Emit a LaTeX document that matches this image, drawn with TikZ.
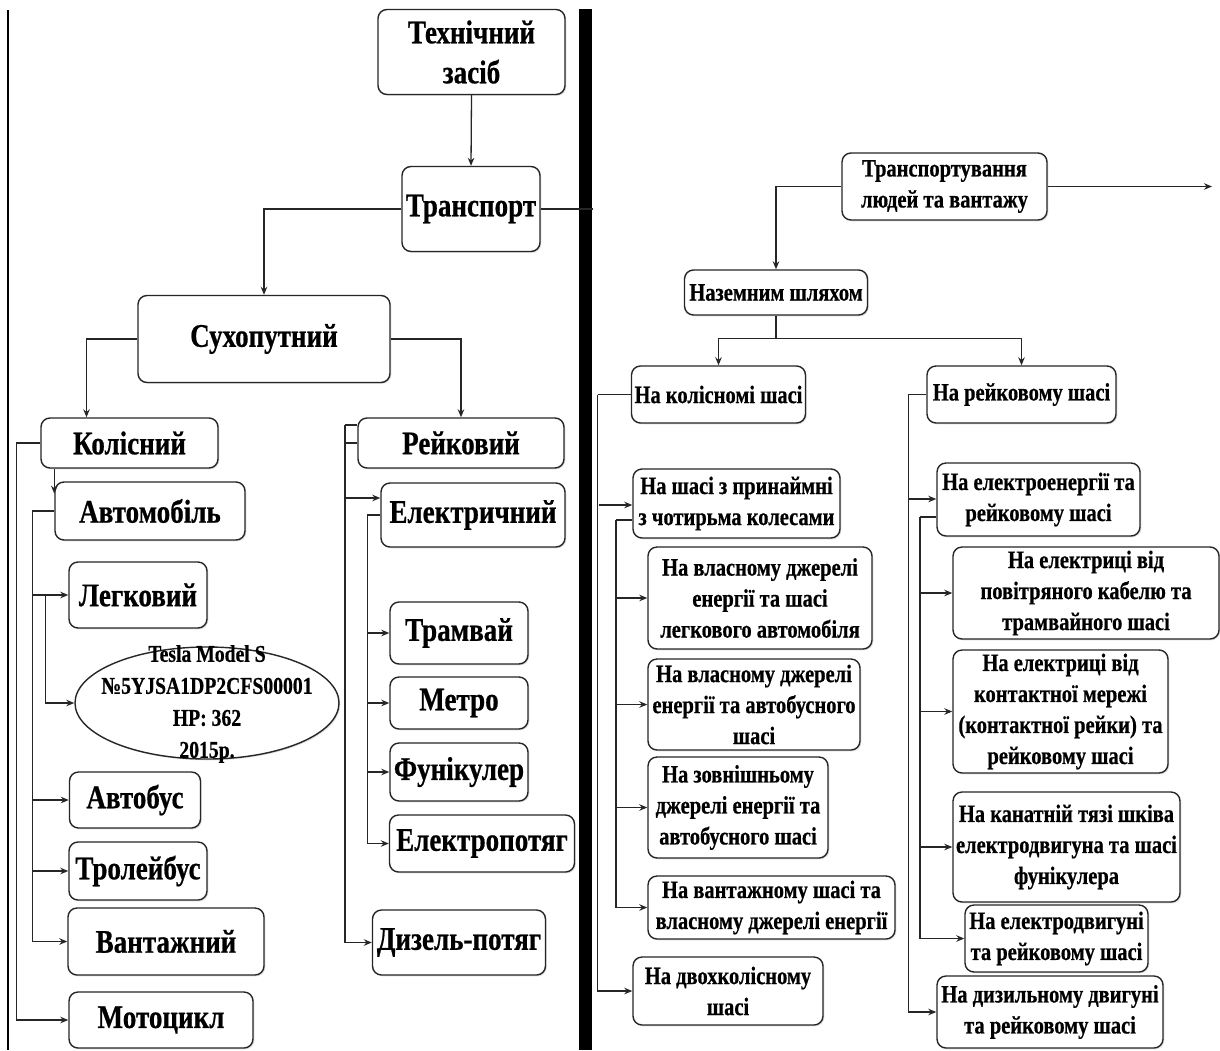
\documentclass[tikz,border=0pt]{standalone}
\usepackage{fontspec}
\setmainfont{Liberation Serif}[FakeStretch=0.82, BoldFeatures={FakeBold=0.6}]
\usetikzlibrary{arrows.meta,shapes.geometric,shadows}

\tikzset{
  rbox/.style={draw=black!85, line width=1.4pt, rounded corners=9pt, fill=white,
    align=center, inner sep=1pt,
    drop shadow={opacity=0.25, shadow xshift=1.3pt, shadow yshift=-1.3pt}},
  big/.style={font=\bfseries\fontsize{33}{40}\selectfont},
  small/.style={font=\bfseries\fontsize{25}{31}\selectfont},
  tiny/.style={font=\bfseries\fontsize{24}{32}\selectfont},
  link/.style={line width=1.3pt, draw=black!85},
  arr/.style={link, -{Stealth[length=8pt,width=6.5pt]}},
}

\begin{document}
\begin{tikzpicture}[x=1pt,y=-1pt]
\fill[white] (0,0) rectangle (1220,1050);
\useasboundingbox (0,0) rectangle (1220,1050);

% page frame and the dividing rule
\draw[line width=1.5pt] (8,10) -- (8,1050);
\fill[black] (579,9) rectangle (592,1050);

% ---------- left tree: classification ----------
\node[rbox, big, minimum width=187, minimum height=85] (tz)   at (471.5,52) {Технічний\\засіб};
\node[rbox, big, minimum width=138, minimum height=85] (trp)  at (471,209) {Транспорт};
\node[rbox, big, minimum width=252, minimum height=87] (sukh) at (264,339) {Сухопутний};
\node[rbox, big, minimum width=177, minimum height=50] (kol)  at (129.5,443) {Колісний};
\node[rbox, big, minimum width=206, minimum height=50] (rei)  at (461,443) {Рейковий};
\node[rbox, big, minimum width=190, minimum height=58] (avto) at (150,511) {Автомобіль};
\node[rbox, big, minimum width=138, minimum height=66] (legk) at (138,595) {Легковий};
\node[draw=black!85, line width=1.4pt, ellipse, fill=white, minimum width=264, minimum height=112,
      drop shadow={opacity=0.25, shadow xshift=1.3pt, shadow yshift=-1.3pt}] (tesla) at (207,703) {};
\node[tiny, align=center] (teslatxt) at (207,704) {Tesla Model S\\№5YJSA1DP2CFS00001\\HP: 362\\2015р.};
\node[rbox, big, minimum width=131, minimum height=56] (avtb) at (135,800) {Автобус};
\node[rbox, big, minimum width=138, minimum height=58] (trol) at (138,871) {Тролейбус};
\node[rbox, big, minimum width=196, minimum height=67] (vant) at (166,941.5) {Вантажний};
\node[rbox, big, minimum width=184, minimum height=56] (moto) at (161,1020) {Мотоцикл};

\node[rbox, big, minimum width=184, minimum height=64] (elek) at (473,515) {Електричний};
\node[rbox, big, minimum width=138, minimum height=62] (tram) at (459,633) {Трамвай};
\node[rbox, big, minimum width=138, minimum height=52] (metro) at (459,703) {Метро};
\node[rbox, big, minimum width=138, minimum height=58] (fun)  at (459,772) {Фунікулер};
\node[rbox, big, minimum width=185, minimum height=57] (epot) at (482,843.5) {Електропотяг};
\node[rbox, big, minimum width=173, minimum height=65] (diz)  at (459,942.5) {Дизель-потяг};

% left connectors
\coordinate (divhit) at (593,209);
\draw[arr] (tz.south) -- (trp.north);
\draw[link] (trp.east) -- (divhit);
\draw[arr] (trp.west) -| (sukh.north);
\draw[arr] (sukh.west) -| ([xshift=-43pt]kol.north);
\draw[arr] (sukh.east) -| (rei.north);

\draw[arr] (kol.west) -- ++(-24,0) |- (moto.west);
\draw[arr] (kol.south -| avto.west) -- ++(0,25);
\draw[link] (avto.west) -- ++(-22,0) coordinate (av0);
\draw[arr] (av0) |- (vant.west);
\draw[arr] (av0 |- legk.west) -- (legk.west);
\draw[arr] (av0 |- avtb.west) -- (avtb.west);
\draw[arr] (av0 |- trol.west) -- (trol.west);
\coordinate (lk) at ([xshift=-23pt]legk.west);
\draw[arr] (lk) |- (tesla.west);

\coordinate (rtop) at (345,425);
\draw[link] (rtop) -- (rtop -| rei.west);
\draw[link] (rei.west) -- (rtop |- rei.west);
\draw[arr] (rtop) |- (diz.west);
\coordinate (re1) at (345,498);
\draw[arr] (re1) -- (re1 -| elek.west);
\draw[link] (elek.west) -- ++(-13,0) coordinate (ev);
\draw[arr] (ev) |- (epot.west);
\draw[arr] (ev |- tram.west) -- (tram.west);
\draw[arr] (ev |- metro.west) -- (metro.west);
\draw[arr] (ev |- fun.west) -- (fun.west);

% ---------- right tree: purpose and chassis ----------
\node[rbox, small, minimum width=205, minimum height=67] (tl)    at (944.5,186.5) {Транспортування\\людей та вантажу};
\node[rbox, small, minimum width=183, minimum height=45] (naz)   at (776,292.5) {Наземним шляхом};
\node[rbox, small, minimum width=174, minimum height=57] (kolsh) at (718.5,394.5) {На колісномі шасі};
\node[rbox, small, minimum width=189, minimum height=57] (reish) at (1021.5,394.5) {На рейковому шасі};

\node[rbox, small, minimum width=207, minimum height=69] (chot)  at (736.5,503.5) {На шасі з принаймні\\з чотирьма колесами};
\node[rbox, small, minimum width=224, minimum height=102] (vl1)  at (760,598) {На власному джерелі\\енергії та шасі\\легкового автомобіля};
\node[rbox, small, minimum width=212, minimum height=91] (vl2)   at (754,704.5) {На власному джерелі\\енергії та автобусного\\шасі};
\node[rbox, small, minimum width=180, minimum height=101] (zovn) at (738,807.5) {На зовнішньому\\джерелі енергії та\\автобусного шасі};
\node[rbox, small, minimum width=247, minimum height=63] (vntsh) at (771.5,907.5) {На вантажному шасі та\\власному джерелі енергії};
\node[rbox, small, minimum width=190, minimum height=68] (dvo)   at (728,991) {На двохколісному\\шасі};

\node[rbox, small, minimum width=203, minimum height=73] (elen)  at (1038.5,499.5) {На електроенергії та\\рейковому шасі};
\node[rbox, small, minimum width=266, minimum height=92] (pov)   at (1086,593) {На електриці від\\повітряного кабелю та\\трамвайного шасі};
\node[rbox, small, minimum width=215, minimum height=123] (kont) at (1060.5,711.5) {На електриці від\\контактної мережі\\(контактної рейки) та\\рейковому шасі};
\node[rbox, small, minimum width=227, minimum height=110] (kan)  at (1066.5,847) {На канатній тязі шківа\\електродвигуна та шасі\\фунікулера};
\node[rbox, small, minimum width=183, minimum height=67] (edv)   at (1056.5,938.5) {На електродвигуні\\та рейковому шасі};
\node[rbox, small, minimum width=226, minimum height=72] (dzl)   at (1050,1012) {На дизильному двигуні\\та рейковому шасі};

% right connectors
\coordinate (tlend) at (1212,186.5);
\draw[arr] (tl.east) -- (tlend);
\draw[arr] (tl.west) -| (naz.north);
\draw[link] (naz.south) -- ++(0,23) coordinate (nb);
\draw[arr] (nb) -| (kolsh.north);
\draw[arr] (nb) -| (reish.north);

\draw[link] (kolsh.west) -- ++(-33,0) coordinate (kv);
\draw[arr] (kv) |- (dvo.west);
\coordinate (k1) at (599,505);
\draw[arr] (k1) -- (k1 -| chot.west);
\coordinate (cv) at (616,520);
\draw[link] (cv) -- (cv -| chot.west);
\draw[arr] (cv) |- (vntsh.west);
\draw[arr] (cv |- vl1.west) -- (vl1.west);
\draw[arr] (cv |- vl2.west) -- (vl2.west);
\draw[arr] (cv |- zovn.west) -- (zovn.west);

\draw[link] (reish.west) -- ++(-18,0) coordinate (rv2);
\draw[arr] (rv2) |- (dzl.west);
\coordinate (r1) at (909,499);
\draw[arr] (r1) -- (r1 -| elen.west);
\coordinate (ev2) at (920,517);
\draw[link] (ev2) -- (ev2 -| elen.west);
\draw[arr] (ev2) |- (edv.west);
\draw[arr] (ev2 |- pov.west) -- (pov.west);
\draw[arr] (ev2 |- kont.west) -- (kont.west);
\draw[arr] (ev2 |- kan.west) -- (kan.west);
\end{tikzpicture}
\end{document}
